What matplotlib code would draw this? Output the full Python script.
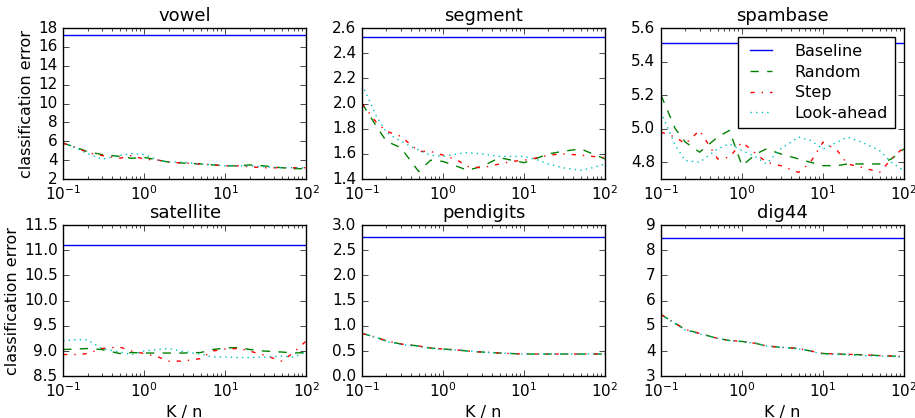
import matplotlib
matplotlib.use("Agg")
import matplotlib.pyplot as plt
from matplotlib.ticker import MultipleLocator

plt.style.use("classic")

x = [0.1, 0.15, 0.2, 0.3, 0.5, 0.7, 1, 1.5, 2, 3, 5, 7, 10, 15, 20, 30, 50, 70, 100]

titles = ["vowel", "segment", "spambase", "satellite", "pendigits", "dig44"]

baseline = [17.3, 2.53, 5.51, 11.1, 2.77, 8.5]

random_ = [
    [5.8, 5.3, 4.9, 4.6, 4.4, 4.2, 4.3, 4.0, 3.8, 3.7, 3.6, 3.5, 3.4, 3.4, 3.5, 3.4, 3.2, 3.1, 3.1],
    [2.0, 1.82, 1.7, 1.65, 1.46, 1.55, 1.54, 1.5, 1.47, 1.5, 1.57, 1.55, 1.53, 1.57, 1.6, 1.62, 1.64, 1.6, 1.56],
    [5.2, 5.0, 4.92, 4.86, 4.95, 4.99, 4.78, 4.85, 4.88, 4.85, 4.82, 4.8, 4.78, 4.78, 4.79, 4.79, 4.79, 4.82, 4.88],
    [9.03, 9.04, 9.05, 9.03, 8.95, 8.97, 8.96, 8.96, 8.96, 8.96, 8.97, 9.03, 9.06, 9.07, 9.03, 9.0, 8.98, 8.96, 8.97],
    [0.85, 0.77, 0.7, 0.64, 0.6, 0.56, 0.54, 0.52, 0.5, 0.48, 0.46, 0.45, 0.44, 0.44, 0.44, 0.44, 0.44, 0.44, 0.44],
    [5.45, 5.1, 4.85, 4.7, 4.5, 4.42, 4.38, 4.3, 4.2, 4.15, 4.1, 4.0, 3.9, 3.88, 3.87, 3.85, 3.82, 3.8, 3.78],
]

step = [
    [5.8, 5.3, 4.8, 4.5, 4.2, 4.5, 4.1, 4.0, 3.8, 3.7, 3.6, 3.5, 3.4, 3.4, 3.3, 3.2, 3.2, 3.2, 3.2],
    [2.0, 1.85, 1.78, 1.74, 1.62, 1.62, 1.59, 1.55, 1.5, 1.49, 1.52, 1.54, 1.55, 1.57, 1.59, 1.6, 1.59, 1.58, 1.57],
    [4.98, 4.95, 4.91, 4.99, 4.82, 4.83, 4.92, 4.85, 4.8, 4.78, 4.74, 4.8, 4.92, 4.87, 4.79, 4.77, 4.74, 4.82, 4.89],
    [8.93, 8.93, 8.95, 9.05, 9.08, 9.0, 8.95, 8.88, 8.8, 8.8, 8.85, 9.0, 9.04, 9.05, 9.0, 8.92, 8.8, 8.97, 9.2],
    [0.85, 0.77, 0.7, 0.64, 0.6, 0.56, 0.54, 0.52, 0.5, 0.48, 0.46, 0.45, 0.44, 0.44, 0.44, 0.44, 0.44, 0.44, 0.44],
    [5.45, 5.1, 4.85, 4.7, 4.5, 4.42, 4.38, 4.3, 4.2, 4.15, 4.1, 4.0, 3.9, 3.88, 3.87, 3.85, 3.82, 3.8, 3.78],
]

lookahead = [
    [5.9, 5.2, 4.7, 4.1, 4.5, 4.7, 4.6, 4.0, 3.8, 3.8, 3.6, 3.5, 3.4, 3.4, 3.4, 3.3, 3.2, 3.2, 3.2],
    [2.15, 1.9, 1.77, 1.7, 1.63, 1.59, 1.58, 1.6, 1.61, 1.6, 1.58, 1.58, 1.58, 1.55, 1.52, 1.49, 1.47, 1.49, 1.52],
    [5.1, 4.9, 4.81, 4.8, 4.88, 4.91, 4.87, 4.83, 4.79, 4.88, 4.95, 4.93, 4.88, 4.92, 4.95, 4.92, 4.87, 4.8, 4.75],
    [9.2, 9.23, 9.22, 9.05, 8.98, 8.93, 9.0, 9.03, 9.05, 8.99, 8.94, 8.88, 8.88, 8.87, 8.87, 8.88, 8.9, 8.88, 8.98],
    [0.85, 0.77, 0.69, 0.63, 0.59, 0.55, 0.53, 0.52, 0.5, 0.48, 0.46, 0.45, 0.44, 0.44, 0.44, 0.44, 0.44, 0.44, 0.44],
    [5.45, 5.08, 4.83, 4.68, 4.5, 4.42, 4.37, 4.3, 4.2, 4.15, 4.08, 4.0, 3.87, 3.86, 3.84, 3.82, 3.8, 3.78, 3.76],
]

ylims = [(2, 18), (1.4, 2.6), (4.7, 5.6), (8.5, 11.5), (0.0, 3.0), (3, 9)]
ysteps = [2, 0.2, 0.2, 0.5, 0.5, 1]
yfmt = ["{:.0f}", "{:.1f}", "{:.1f}", "{:.1f}", "{:.1f}", "{:.0f}"]

fig, axes = plt.subplots(2, 3, figsize=(9.15, 4.18), dpi=100)
fig.patch.set_facecolor("white")
fig.subplots_adjust(left=0.069, right=0.988, top=0.933, bottom=0.1, wspace=0.23, hspace=0.305)

for i, ax in enumerate(axes.flat):
    ax.set_facecolor("white")
    ax.plot([x[0], x[-1]], [baseline[i], baseline[i]], "b-", label="Baseline")
    ax.plot(x, random_[i], "g--", label="Random")
    ax.plot(x, step[i], "r-.", label="Step")
    ax.plot(x, lookahead[i], "c:", label="Look-ahead")
    ax.set_xscale("log")
    ax.set_xlim(0.1, 100)
    ax.set_ylim(*ylims[i])
    ax.yaxis.set_major_locator(MultipleLocator(ysteps[i]))
    fmt = yfmt[i]
    ax.yaxis.set_major_formatter(matplotlib.ticker.FuncFormatter(lambda v, p, f=fmt: f.format(v)))
    ax.set_title(titles[i], fontsize=13)
    ax.tick_params(labelsize=11)
    ax.tick_params(axis="x", pad=4)
    if i % 3 == 0:
        ax.set_ylabel("classification error", fontsize=11.5, labelpad=3)
    if i >= 3:
        ax.set_xlabel("K / n", fontsize=11.5, labelpad=3)
    if i == 2:
        leg = ax.legend(loc="upper right", fontsize=11.5, handlelength=2.0,
                        handletextpad=1.1, labelspacing=0.35, borderaxespad=0.55,
                        borderpad=0.45)
        leg.get_frame().set_facecolor("white")

fig.savefig("out.png", dpi=100, facecolor="white")
